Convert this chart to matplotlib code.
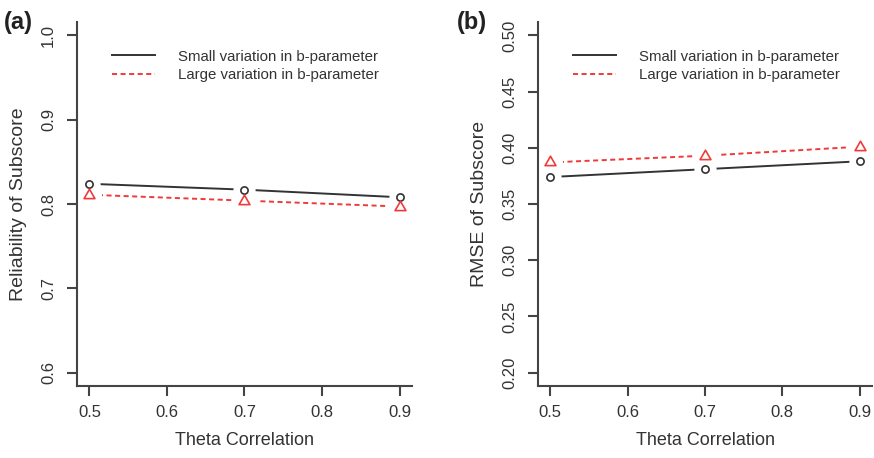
import matplotlib
matplotlib.use("Agg")
import matplotlib.pyplot as plt
from matplotlib.path import Path
import numpy as np

plt.rcParams['font.family'] = ['Liberation Sans', 'DejaVu Sans']

theta = [0.5, 0.7, 0.9]
rel_small = [0.824, 0.817, 0.808]
rel_large = [0.811, 0.804, 0.797]
rmse_small = [0.374, 0.381, 0.388]
rmse_large = [0.387, 0.393, 0.401]

xticks = [0.5, 0.6, 0.7, 0.8, 0.9]
rel_yticks = [0.6, 0.7, 0.8, 0.9, 1.0]
rmse_yticks = [0.20, 0.25, 0.30, 0.35, 0.40, 0.45, 0.50]

label_small = "Small variation in b-parameter"
label_large = "Large variation in b-parameter"

BLACK = '#333333'
RED = '#f03a3a'
AXC = '#444444'

# R-style triangle (pch=2): centroid at data point
tri = Path([(0, 1.0), (-0.866, -0.5), (0.866, -0.5), (0, 1.0)],
           [Path.MOVETO, Path.LINETO, Path.LINETO, Path.CLOSEPOLY])

fig = plt.figure(figsize=(8.74, 4.58), dpi=100)
W, H = 874, 458
ax_a = fig.add_axes([77 / W, (458 - 386) / H, (412 - 77) / W, (386 - 22) / H])
ax_b = fig.add_axes([538 / W, (458 - 386) / H, (872 - 538) / W, (386 - 22) / H])


def style(ax, yticks, ylabel, yfmt, panel, lx):
    ax.set_xlim(0.5 - 0.016, 0.9 + 0.016)
    lo, hi = yticks[0], yticks[-1]
    ext = (hi - lo) * 0.04
    ax.set_ylim(lo - ext, hi + ext)
    ax.set_xticks(xticks)
    ax.set_xticklabels([f"{v:.1f}" for v in xticks])
    ax.set_yticks(yticks)
    ax.set_yticklabels([yfmt.format(v) for v in yticks], rotation=90, va='center')
    for s in ['top', 'right']:
        ax.spines[s].set_visible(False)
    for s in ['left', 'bottom']:
        ax.spines[s].set_linewidth(1.5)
        ax.spines[s].set_color(AXC)
        ax.spines[s].set_zorder(6)
    ax.tick_params(axis='both', length=7, width=1.5, color=AXC, labelcolor='#333333',
                   labelsize=12)
    ax.tick_params(axis='x', pad=7)
    ax.tick_params(axis='y', pad=8)
    ax.set_xlabel("Theta Correlation", fontsize=13, color='#333333', labelpad=8)
    ax.set_ylabel(ylabel, fontsize=14, color='#333333', labelpad=10)
    fig.text(lx, 1 - 22 / H, panel, fontsize=17, fontweight='bold', ha='left', va='center',
             color='#222222')


def draw(ax, ys, yl):
    ax.plot(theta, ys, color=BLACK, lw=1.4, zorder=2)
    ax.plot(theta, yl, color=RED, lw=1.4, linestyle=(0, (2.6, 1.8)), zorder=2)
    ax.plot(theta, ys, linestyle='none', marker='o', ms=16, mfc='white', mec='none', zorder=3)
    ax.plot(theta, yl, linestyle='none', marker='o', ms=18, mfc='white', mec='none', zorder=3)
    ax.plot(theta, ys, linestyle='none', marker='o', ms=5.2, mfc='none', mec=BLACK, mew=1.2,
            zorder=4)
    ax.plot(theta, yl, linestyle='none', marker=tri, ms=9, mfc='none', mec=RED, mew=1.2,
            zorder=4)
    h1, = ax.plot([], [], color=BLACK, lw=1.4)
    h2, = ax.plot([], [], color=RED, lw=1.4, linestyle=(0, (2.6, 1.8)))
    ax.legend([h1, h2], [label_small, label_large], loc='upper left',
              bbox_to_anchor=(0.082, 0.945), frameon=False, fontsize=10.8,
              handlelength=2.9, handletextpad=1.5, labelspacing=0.3, borderpad=0,
              labelcolor='#333333')


style(ax_a, rel_yticks, "Reliability of Subscore", "{:.1f}", "(a)", 4 / W)
draw(ax_a, rel_small, rel_large)
style(ax_b, rmse_yticks, "RMSE of Subscore", "{:.2f}", "(b)", 457 / W)
draw(ax_b, rmse_small, rmse_large)

fig.savefig("out.png", dpi=100)
